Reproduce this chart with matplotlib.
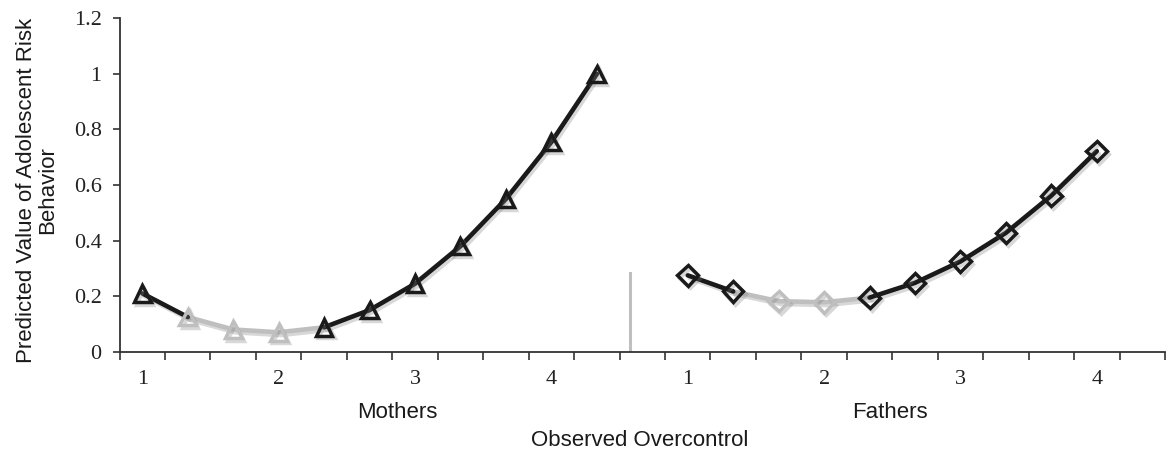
import matplotlib
matplotlib.use("Agg")
import matplotlib.pyplot as plt
import matplotlib.patheffects as pe
import numpy as np

# ---- data ----
mother_levels = [1, 1.33, 1.67, 2, 2.33, 2.67, 3, 3.33, 3.67, 4, 4.33]
mother_vals = [0.21, 0.125, 0.08, 0.07, 0.088, 0.15, 0.245, 0.38, 0.55, 0.755, 1.0]
father_levels = [1, 1.33, 1.67, 2, 2.33, 2.67, 3, 3.33, 3.67, 4]
father_vals = [0.275, 0.217, 0.182, 0.178, 0.195, 0.248, 0.325, 0.428, 0.562, 0.722]
# indices of the non-significant (grey) region: segments start..end, markers
mother_grey_seg = (1, 4)
mother_grey_marks = [1, 2, 3]
father_grey_seg = (1, 4)
father_grey_marks = [2, 3]
tick_label_values = [1, 2, 3, 4]
group_names = ["Mothers", "Fathers"]
y_ticks = [0, 0.2, 0.4, 0.6, 0.8, 1.0, 1.2]
y_tick_labels = ["0", "0.2", "0.4", "0.6", "0.8", "1", "1.2"]
divider_height = 0.285

BLACK = "#1a1a1a"
GREY = "#bfbfbf"

fig = plt.figure(figsize=(11.70, 4.58), dpi=100)
ax = fig.add_axes([0.1022, 0.232, 0.8935, 0.728])

n_m = len(mother_vals)
gap = 1
m_pos = np.arange(n_m)
f_start = n_m + gap
f_pos = np.arange(len(father_vals)) + f_start
n_total = f_start + len(father_vals) + 1

shadow = [pe.SimpleLineShadow(offset=(1.5, -2), shadow_color="gray", alpha=0.3),
          pe.Normal()]


def draw_series(pos, vals, grey_seg, grey_marks, marker, ms):
    pos = np.asarray(pos)
    vals = np.asarray(vals)
    a, b = grey_seg
    ax.plot(pos[:a + 1], vals[:a + 1], color=BLACK, lw=3.3, zorder=3,
            solid_capstyle="round", path_effects=shadow)
    ax.plot(pos[a:b + 1], vals[a:b + 1], color=GREY, lw=3.3, zorder=2,
            solid_capstyle="round", path_effects=shadow)
    ax.plot(pos[b:], vals[b:], color=BLACK, lw=3.3, zorder=3,
            solid_capstyle="round", path_effects=shadow)
    for i, (x, y) in enumerate(zip(pos, vals)):
        col = GREY if i in grey_marks else BLACK
        ax.plot([x], [y], linestyle="none", marker=marker, ms=ms,
                mfc="none", mec=col, mew=2.5, zorder=4,
                path_effects=shadow)


draw_series(m_pos, mother_vals, mother_grey_seg, mother_grey_marks, "^", 12)
draw_series(f_pos, father_vals, father_grey_seg, father_grey_marks, "D", 10.5)

# divider between the two panels
div_x = n_m - 0.26
ax.plot([div_x, div_x], [0, divider_height], color=GREY, lw=2.2, zorder=1)

ax.set_xlim(-0.5, n_total - 0.5)
ax.set_ylim(0, 1.2)

# category boundary ticks (minor), labels at category centers (major)
ax.set_xticks(np.arange(-0.5, n_total, 1.0), minor=True)
lab_pos = []
lab_txt = []
for v in tick_label_values:
    lab_pos.append(mother_levels.index(v))
    lab_txt.append(str(v))
for v in tick_label_values:
    lab_pos.append(f_start + father_levels.index(v))
    lab_txt.append(str(v))
ax.set_xticks(lab_pos)
ax.set_xticklabels(lab_txt, family="Liberation Serif", fontsize=16)
ax.tick_params(axis="x", which="major", length=0, pad=13, colors="#222222")
ax.tick_params(axis="x", which="minor", length=6, width=1.2, direction="out",
               color="#333333")

ax.set_yticks(y_ticks)
ax.set_yticklabels(y_tick_labels, family="Liberation Serif", fontsize=16)
ax.tick_params(axis="y", length=5, width=1.2, direction="out", pad=8,
               color="#333333", labelcolor="#222222")

for s in ["top", "right"]:
    ax.spines[s].set_visible(False)
for s in ["left", "bottom"]:
    ax.spines[s].set_linewidth(1.3)
    ax.spines[s].set_color("#333333")

# group labels
trans = matplotlib.transforms.blended_transform_factory(ax.transData, fig.transFigure)
ax.text(5.6, 1 - 413 / 458, group_names[0], transform=trans,
        ha="center", va="center", fontsize=16, family="Liberation Sans", color="#1a1a1a")
ax.text(f_start + 4.45, 1 - 413 / 458, group_names[1],
        transform=trans, ha="center", va="center", fontsize=16,
        family="Liberation Sans", color="#1a1a1a")

fig.text(640 / 1170, 1 - 440 / 458, "Observed Overcontrol", ha="center", va="center",
         fontsize=16, family="Liberation Sans", color="#1a1a1a")
fig.text(37 / 1170, 1 - 190 / 458, "Predicted Value of Adolescent Risk\nBehavior",
         ha="center", va="center", rotation=90, fontsize=16, linespacing=1.0,
         family="Liberation Sans", color="#1a1a1a")

fig.savefig("out.png", dpi=100)
